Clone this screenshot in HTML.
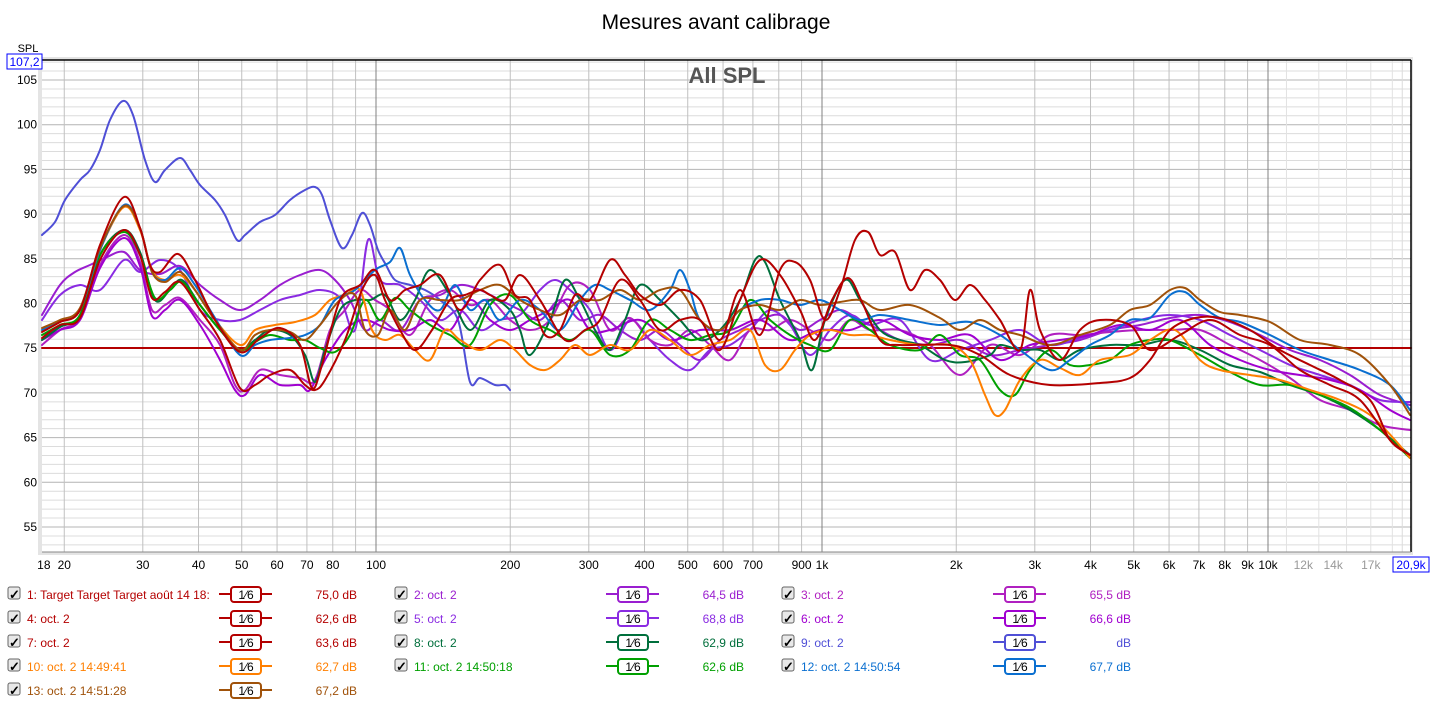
<!DOCTYPE html>
<html><head><meta charset="utf-8"><style>
body{margin:0;background:#fff;width:1433px;height:705px;overflow:hidden;font-family:"Liberation Sans",sans-serif}
svg text{font-family:"Liberation Sans",sans-serif}
</style></head><body>
<svg id="s" width="1433" height="705" xmlns="http://www.w3.org/2000/svg">
<rect width="1433" height="705" fill="#fff"/>
<text x="716" y="29" font-size="21" text-anchor="middle" fill="#000">Mesures avant calibrage</text>
<rect x="38" y="57" width="1375" height="498" fill="#e4e4e4"/>
<rect x="42" y="60" width="1369" height="492" fill="#fff"/>
<g id="grid"></g>
<text x="727" y="83" font-size="22" font-weight="bold" text-anchor="middle" fill="#555">All SPL</text>
<g id="curves" fill="none" stroke-width="2" stroke-linejoin="round" stroke-linecap="round"></g>
<line x1="42" y1="60" x2="1411" y2="60" stroke="#000" stroke-width="1.5"/>
<line x1="1411" y1="60" x2="1411" y2="552" stroke="#000" stroke-width="1.5"/>
<line x1="42" y1="552" x2="1411" y2="552" stroke="#888" stroke-width="1"/>
<text x="28" y="52" font-size="11" text-anchor="middle">SPL</text>
<rect x="7" y="54" width="35" height="15" fill="#fff" stroke="#00f"/>
<text x="24.5" y="66" font-size="12" text-anchor="middle" fill="#00f">107,2</text>
<g id="labels" font-size="12"></g>
<g id="legend" font-size="12"></g>
</svg>
<script>
const NS="http://www.w3.org/2000/svg";
function el(t,a,p,txt){const e=document.createElementNS(NS,t);for(const k in a)e.setAttribute(k,a[k]);if(txt!==undefined)e.textContent=txt;p.appendChild(e);return e;}
const X=f=>376+446*Math.log10(f/100);
const Y=d=>80+(105-d)*8.94;
const g=document.getElementById('grid'),lb=document.getElementById('labels');
for(let d=53;d<=107;d++){const y=Y(d);if(y<60||y>552)continue;el('line',{x1:42,x2:1411,y1:y,y2:y,stroke:d%5==0?'#b4b4b4':'#dcdcdc','stroke-width':1},g);}
for(let dec of [10,100,1000,10000]){for(let m=1;m<=9;m++){const f=dec*m;const x=X(f);if(x<42||x>1411)continue;
 let c=m==1?'#808080':'#c0c0c0'; if(f>10000)c='#dcdcdc'; el('line',{x1:x,x2:x,y1:60,y2:552,stroke:c,'stroke-width':1},g);}}
for(let f=11000;f<20000;f+=1000){if(f%2000==0)continue;const x=X(f);el('line',{x1:x,x2:x,y1:60,y2:552,stroke:'#e2e2e2'},g);}
for(let d=55;d<=105;d+=5)el('text',{x:37,y:Y(d)+4,'text-anchor':'end'},lb,String(d));
const xl=[[18,'18'],[20,'20'],[30,'30'],[40,'40'],[50,'50'],[60,'60'],[70,'70'],[80,'80'],[100,'100'],[200,'200'],[300,'300'],[400,'400'],[500,'500'],[600,'600'],[700,'700'],[900,'900'],[1000,'1k'],[2000,'2k'],[3000,'3k'],[4000,'4k'],[5000,'5k'],[6000,'6k'],[7000,'7k'],[8000,'8k'],[9000,'9k'],[10000,'10k'],[12000,'12k',1],[14000,'14k',1],[17000,'17k',1]];
for(const [f,t,gr] of xl)el('text',{x:X(f),y:569,'text-anchor':'middle',fill:gr?'#999':'#000'},lb,t);
el('rect',{x:1393,y:557,width:36,height:15,fill:'#fff',stroke:'#00f'},lb);
el('text',{x:1411,y:569,'text-anchor':'middle',fill:'#00f'},lb,'20,9k');
function path(pts){let d='M'+pts[0][0]+','+pts[0][1];for(let i=0;i<pts.length-1;i++){const p0=pts[Math.max(0,i-1)],p1=pts[i],p2=pts[i+1],p3=pts[Math.min(pts.length-1,i+2)];
 const c1=[p1[0]+(p2[0]-p0[0])/6,p1[1]+(p2[1]-p0[1])/6],c2=[p2[0]-(p3[0]-p1[0])/6,p2[1]-(p3[1]-p1[1])/6];
 d+=`C${c1[0].toFixed(1)},${c1[1].toFixed(1)} ${c2[0].toFixed(1)},${c2[1].toFixed(1)} ${p2[0]},${p2[1]}`;}return d;}
function P(s){const a=s.split(';').map(t=>t.split(',').map(Number));return a;}
const C={
blue9:['#4f4fd6',"42,235;55,222;65,200;80,180;90,170;100,150;110,120;123,101;133,115;145,160;155,182;165,170;180,158;190,170;200,185;215,200;225,215;237,240;245,235;260,222;275,215;290,200;305,190;315,187;322,195;330,220;342,248;352,235;362,213;370,225;378,250;386,265;395,280;410,285;425,290;440,300;458,320;470,382;480,378;495,385;505,385;510,390"],
c2:['#9a1ed0',"42,315;60,285;75,272;90,265;105,258;124,252;140,270;160,274;180,266;200,285;220,300;240,310;260,300;280,285;300,275;320,270;335,280;350,300;365,330;380,320;400,330;420,300;440,295;460,285;480,290;500,300;520,310;540,320;560,300;580,320;600,315;620,330;640,340;660,330;680,345;700,360;720,340;740,330;760,320;780,315;800,330;820,320;840,310;860,320;880,330;900,340;930,345;960,340;990,355;1020,350;1050,345;1080,340;1110,330;1140,325;1170,318;1200,315;1230,322;1260,335;1290,350;1320,360;1350,375;1380,395;1410,405"],
c5:['#8a2be2',"42,320;60,295;80,285;100,290;124,260;140,272;160,260;180,270;200,310;220,320;240,320;260,310;280,300;300,295;320,290;340,298;355,330;368,240;380,280;400,285;420,300;440,320;460,310;480,330;500,320;520,315;540,290;555,280;570,290;590,310;610,350;630,320;650,340;670,360;690,370;710,350;730,345;750,330;770,310;790,325;810,355;830,330;850,315;870,325;900,320;930,360;960,350;990,340;1020,330;1050,345;1080,338;1110,330;1140,320;1170,315;1200,320;1230,335;1260,350;1290,365;1320,375;1350,385;1380,400;1410,402"],
c3:['#b020c0',"42,345;60,330;80,318;100,265;124,235;140,262;152,310;165,305;180,298;200,320;220,345;235,385;245,390;260,370;280,375;300,378;315,380;330,330;345,310;360,290;375,300;390,310;410,335;430,300;450,290;470,305;490,300;510,320;530,330;550,320;570,285;590,290;610,330;630,318;650,340;670,345;690,330;710,345;730,360;750,330;770,330;790,320;810,330;830,340;850,320;870,330;900,330;930,345;960,375;990,345;1020,355;1050,335;1080,335;1110,332;1140,330;1170,330;1200,330;1230,345;1260,360;1290,378;1320,400;1350,410;1380,425;1410,430"],
c6:['#a000d0',"42,340;60,330;80,320;100,268;124,238;140,266;152,316;165,310;180,300;200,325;220,360;235,390;245,395;260,375;280,385;300,385;310,390;325,360;345,330;365,320;390,330;410,330;430,320;450,330;470,300;490,320;510,330;530,320;550,310;570,300;590,330;610,330;640,320;670,340;700,330;730,330;760,320;790,340;820,330;850,330;880,320;910,335;940,340;970,335;1000,360;1030,345;1060,340;1090,335;1120,325;1150,330;1180,320;1210,345;1240,360;1270,370;1300,375;1330,380;1360,390;1390,410;1410,420"],
c8:['#006f3c',"42,340;60,327;80,315;100,255;124,230;140,252;155,300;170,290;182,280;200,305;220,330;240,350;255,340;270,330;290,335;305,355;315,382;325,350;340,310;355,300;370,300;385,295;400,320;415,300;430,270;450,295;470,330;490,300;510,310;520,330;530,355;550,320;565,280;580,300;595,330;610,350;625,320;640,285;660,300;680,320;700,340;720,330;740,300;755,260;765,262;780,300;800,340;812,370;825,320;845,280;860,300;880,330;900,340;920,345;945,360;965,362;990,355;1000,345;1020,350;1040,350;1060,360;1080,350;1110,345;1140,345;1170,340;1200,350;1230,365;1260,372;1290,385;1320,395;1350,410;1380,430;1410,455"],
c11:['#00a000',"42,335;60,325;80,315;100,255;124,232;140,255;155,298;170,290;182,282;200,305;220,330;240,350;255,342;270,335;290,340;305,340;320,348;335,352;350,335;365,300;380,320;395,298;410,310;430,325;450,335;470,345;490,305;510,295;530,320;550,330;570,340;590,330;610,355;630,350;650,320;670,330;690,340;710,335;730,330;750,300;770,320;790,335;810,345;830,350;850,320;870,330;890,345;920,350;940,335;960,355;980,360;1000,390;1015,395;1030,370;1050,350;1070,365;1090,365;1110,360;1130,345;1150,340;1170,340;1200,355;1230,372;1260,385;1290,385;1320,395;1350,408;1380,430;1410,458"],
c10:['#ff7f00',"42,330;60,322;80,310;100,250;124,207;140,230;152,270;165,280;180,275;195,290;215,320;240,345;255,330;275,325;295,322;315,315;330,300;345,295;360,290;372,330;385,340;400,335;415,350;430,360;445,330;460,340;480,350;500,340;515,350;530,365;545,370;560,360;575,345;590,355;610,345;630,350;650,330;670,340;690,355;710,345;730,340;750,330;765,365;780,370;795,350;810,335;830,330;850,335;870,335;890,340;920,345;950,345;970,360;985,395;995,415;1005,410;1020,380;1040,360;1060,368;1080,375;1100,360;1130,355;1150,340;1175,330;1200,360;1220,370;1250,375;1280,380;1310,390;1340,400;1370,415;1395,440;1410,458"],
c12:['#0a6fd0',"42,330;60,322;80,310;100,250;124,205;140,228;152,272;165,280;180,268;195,285;215,318;240,355;255,345;270,340;290,338;305,335;320,325;335,300;355,290;375,270;390,262;400,248;410,275;425,300;440,310;455,285;470,310;485,300;500,320;520,300;540,310;560,330;580,300;595,285;610,290;630,300;650,310;670,290;680,270;690,290;700,320;720,330;740,310;760,300;780,300;800,305;820,300;840,310;860,320;880,315;910,320;940,325;970,322;1000,335;1020,350;1050,370;1070,360;1090,345;1110,335;1130,320;1150,318;1170,295;1185,292;1200,305;1220,318;1240,322;1270,335;1300,350;1330,360;1360,370;1390,385;1410,410"],
c13:['#a0520a',"42,328;60,320;80,308;100,248;124,206;140,228;152,272;165,282;180,272;195,290;215,320;240,350;255,335;270,330;290,332;305,340;320,325;340,300;355,295;365,330;378,335;390,310;405,330;420,300;440,300;460,300;480,290;500,285;520,300;540,310;560,315;580,300;600,300;620,290;640,300;660,290;680,290;700,320;720,330;740,310;760,305;780,310;800,300;820,305;840,302;860,300;880,310;910,305;940,318;960,330;980,320;1000,330;1020,335;1050,345;1080,335;1110,325;1130,310;1150,305;1170,290;1185,288;1200,300;1220,312;1240,315;1270,322;1300,340;1330,345;1360,355;1390,385;1410,415"],
c7:['#b40000',"42,338;60,325;80,318;100,260;124,230;140,255;152,298;165,292;180,282;200,310;220,340;240,388;255,385;270,375;290,370;305,385;315,390;325,380;345,340;362,290;375,275;385,300;400,330;415,350;432,330;450,300;465,295;480,290;490,295;505,300;520,275;540,300;565,340;585,330;600,320;620,280;640,300;660,330;680,320;700,320;720,350;740,300;760,260;780,275;800,310;815,340;832,300;848,278;862,302;880,340;900,345;950,345;980,355;1010,375;1050,385;1100,383;1130,378;1150,360;1170,330;1195,318;1220,318;1250,330;1280,350;1310,365;1340,380;1370,400;1390,440;1410,455"],
c4:['#b40000',"42,332;60,322;80,310;100,245;124,197;140,228;150,265;160,272;178,254;195,280;215,320;240,352;260,338;280,328;300,345;312,388;322,365;340,300;360,285;375,270;390,300;405,290;420,285;440,275;460,310;480,280;500,265;515,295;530,300;545,335;560,330;575,295;590,300;610,260;625,275;640,295;660,305;680,290;700,300;720,340;740,290;760,335;780,270;795,262;810,280;825,320;840,290;855,240;868,232;880,255;895,252;910,290;925,270;940,280;955,300;970,285;985,300;1000,320;1020,350;1030,290;1040,330;1060,360;1080,330;1100,320;1130,325;1150,350;1180,335;1210,320;1240,335;1270,345;1300,370;1330,385;1360,400;1390,440;1410,455"]
};
const cg=document.getElementById('curves');
el('line',{x1:42,x2:1411,y1:348,y2:348,stroke:'#b40000','stroke-width':2},cg);
for(const k in C){el('path',{d:path(P(C[k][1])),stroke:C[k][0]},cg);}
// legend
const L=document.getElementById('legend');
const items=[
[0,0,'1: Target Target Target août 14 18:','75,0 dB','#b40000'],[1,0,'2: oct. 2','64,5 dB','#9a1ed0'],[2,0,'3: oct. 2','65,5 dB','#b020c0'],
[0,1,'4: oct. 2','62,6 dB','#b40000'],[1,1,'5: oct. 2','68,8 dB','#8a2be2'],[2,1,'6: oct. 2','66,6 dB','#a000d0'],
[0,2,'7: oct. 2','63,6 dB','#b40000'],[1,2,'8: oct. 2','62,9 dB','#006f3c'],[2,2,'9: oct. 2','dB','#4f4fd6'],
[0,3,'10: oct. 2 14:49:41','62,7 dB','#ff7f00'],[1,3,'11: oct. 2 14:50:18','62,6 dB','#00a000'],[2,3,'12: oct. 2 14:50:54','67,7 dB','#0a6fd0'],
[0,4,'13: oct. 2 14:51:28','67,2 dB','#a0520a']];
for(const [c,r,t,db,col] of items){const ox=c*387,y=594+r*24;
 el('rect',{x:ox+8,y:y-7,width:12,height:12,rx:2,fill:'#e8e8e8',stroke:'#666'},L);
 el('text',{x:ox+9,y:y+5,'font-size':13,'font-weight':'bold',fill:'#000'},L,'✓');
 el('text',{x:ox+27,y:y+5,fill:col},L,t);
 el('line',{x1:ox+219,x2:ox+272,y1:y,y2:y,stroke:col,'stroke-width':2},L);
 el('rect',{x:ox+231,y:y-7,width:30,height:15,rx:3,fill:'#fff',stroke:col,'stroke-width':2},L);
 el('text',{x:ox+246,y:y+5,'text-anchor':'middle','font-size':12,fill:'#000'},L,'1⁄6');
 el('text',{x:ox+357,y:y+5,'text-anchor':'end',fill:col},L,db);}
</script>
</body></html>
